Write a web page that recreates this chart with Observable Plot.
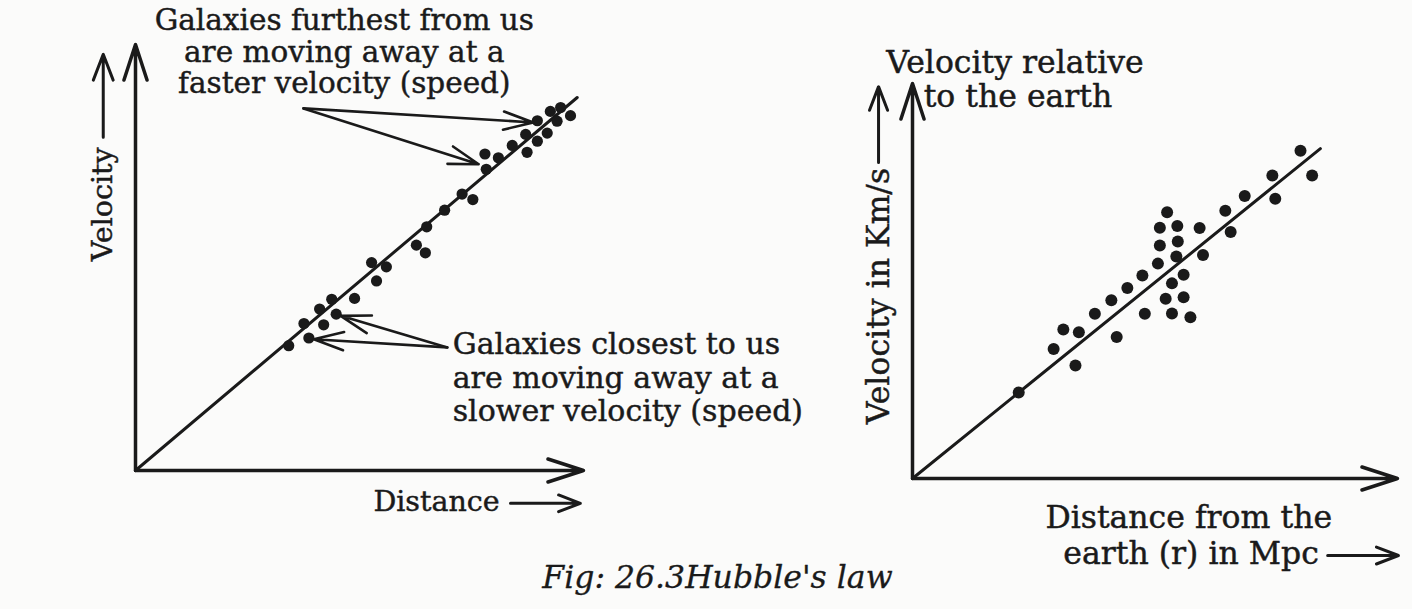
<!DOCTYPE html>
<html><head><meta charset="utf-8">
<script src="https://cdn.jsdelivr.net/npm/d3@7"></script>
<script src="https://cdn.jsdelivr.net/npm/@observablehq/plot@0.6"></script>
<style>
body{margin:0;background:#fbfbfa;}
#wrap{position:relative;width:1412px;height:609px;overflow:hidden;background:#fbfbfa;}
#wrap svg{position:absolute;left:0;top:0;}
</style></head><body><div id="wrap"></div>
<script>
// Left panel: galaxies (distance vs velocity, arbitrary units 0-100)
const leftDistance = [89.7,92.6,94.9,97.1,94.1,91.9,89.7,87.1,87.4,84.1,81.0,78.0,78.3,72.9,75.3,69.0,65.0,62.7,64.7,52.7,56.0,53.8,48.9,43.8,41.1,44.8,37.6,42.0,38.7,34.2];
const leftVelocity = [82.1,84.3,85.2,83.3,82.0,79.2,77.3,78.9,74.7,76.3,73.4,74.3,70.7,64.9,63.6,61.1,57.2,52.9,51.1,48.8,47.8,44.5,40.4,40.2,37.9,36.7,34.5,34.2,31.1,29.3];
const leftHubbleSlope = 0.888;
const leftLineMaxDistance = 98.6;

// Right panel: velocity in km/s vs distance in Mpc (arbitrary units 0-100)
const rightDistance = [80.0,82.4,74.2,74.8,68.5,64.5,65.6,59.2,59.9,52.5,51.0,54.6,51.0,54.7,54.4,50.6,55.9,53.5,47.4,44.3,41.0,37.6,52.2,55.9,47.9,53.5,57.3,34.3,31.1,29.1,42.1,33.6,21.9];
const rightVelocity = [83.0,76.7,76.7,70.8,71.5,67.8,62.4,63.4,56.6,67.4,63.5,63.9,59.0,60.0,56.2,54.4,51.6,49.4,51.4,48.2,45.1,41.7,45.5,45.9,41.7,41.8,40.8,37.0,37.7,32.8,35.8,28.6,21.8];
const rightHubbleSlope = 0.993;
const rightLineMaxDistance = 84.1;

// Texts
const leftTopNote = "Galaxies furthest from us\nare moving away at a\nfaster velocity (speed)";
const leftBottomNote = "Galaxies closest to us\nare moving away at a\nslower velocity (speed)";
const leftXLabel = "Distance";
const leftYLabel = "Velocity";
const rightYTitle1 = "Velocity relative";
const rightYTitle2 = "to the earth";
const rightYLabel = "Velocity in Km/s";
const rightXLabel1 = "Distance from the";
const rightXLabel2 = "earth (r) in Mpc";
const caption = "Fig: 26.3Hubble's law";

const ink = "#1a1a1a";
const font = "DejaVu Serif";

const leftPts = leftDistance.map((d, i) => ({d, v: leftVelocity[i]}));
const rightPts = rightDistance.map((d, i) => ({d, v: rightVelocity[i]}));
const leftLine = [0, leftLineMaxDistance].map(d => ({d, v: d * leftHubbleSlope}));
const rightLine = [0, rightLineMaxDistance].map(d => ({d, v: d * rightHubbleSlope}));

const common = {
  width: 1412, height: 609, margin: 0,
  style: {background: "transparent", fontFamily: font, overflow: "visible", color: ink}
};
const axisArrow = {stroke: ink, strokeWidth: 3.5, headLength: 16, headAngle: 36};
const noteArrow = {stroke: ink, strokeWidth: 2.6, headLength: 18, headAngle: 34};
const labelArrow = {stroke: ink, strokeWidth: 3, headLength: 15, headAngle: 42};
const txt = (size) => ({fill: ink, stroke: ink, strokeWidth: 0.45, fontSize: size, fontFamily: font});

const left = Plot.plot({
  ...common,
  x: {domain: [0, 100], range: [135, 583], axis: null},
  y: {domain: [0, 100], range: [470, 44], axis: null},
  marks: [
    Plot.arrow([0], {x1: 0, y1: 0, x2: 100, y2: 0, ...axisArrow}),
    Plot.arrow([0], {x1: 0, y1: 0, x2: 0, y2: 100, ...axisArrow}),
    Plot.line(leftLine, {x: "d", y: "v", stroke: ink, strokeWidth: 3}),
    Plot.dot(leftPts, {x: "d", y: "v", r: 5.6, fill: ink}),
    Plot.text([leftTopNote], {x: 46.6, y: 98.3, text: d => d, textAnchor: "middle", lineHeight: 1.06, ...txt(29.5)}),
    Plot.arrow([0], {x1: 37.5, y1: 85.0, x2: 88.8, y2: 81.7, ...noteArrow}),
    Plot.arrow([0], {x1: 37.5, y1: 85.0, x2: 76.6, y2: 71.9, ...noteArrow}),
    Plot.text([leftBottomNote], {x: 70.8, y: 22.0, text: d => d, textAnchor: "start", lineHeight: 1.12, ...txt(30)}),
    Plot.arrow([0], {x1: 69.6, y1: 28.9, x2: 45.8, y2: 36.3, ...noteArrow}),
    Plot.arrow([0], {x1: 69.6, y1: 28.9, x2: 39.8, y2: 30.8, ...noteArrow}),
    Plot.text([leftYLabel], {x: -7.2, y: 62.5, text: d => d, rotate: -90, textAnchor: "middle", ...txt(28.5)}),
    Plot.arrow([0], {x1: -7.2, y1: 78.2, x2: -7.2, y2: 97.7, ...labelArrow}),
    Plot.text([leftXLabel], {x: 53.1, y: -7.3, text: d => d, textAnchor: "start", ...txt(28.5)}),
    Plot.arrow([0], {x1: 83.7, y1: -7.7, x2: 99.3, y2: -7.7, ...labelArrow}),
    Plot.text([caption], {x: 129.9, y: -25.1, text: d => d, textAnchor: "middle", fontStyle: "italic", ...txt(31.5), strokeWidth: 0.3})
  ]
});

const right = Plot.plot({
  ...common,
  x: {domain: [0, 100], range: [912, 1397], axis: null},
  y: {domain: [0, 100], range: [478, 83], axis: null},
  marks: [
    Plot.arrow([0], {x1: 0, y1: 0, x2: 100, y2: 0, ...axisArrow}),
    Plot.arrow([0], {x1: 0, y1: 0, x2: 0, y2: 100, ...axisArrow}),
    Plot.line(rightLine, {x: "d", y: "v", stroke: ink, strokeWidth: 3}),
    Plot.dot(rightPts, {x: "d", y: "v", r: 6, fill: ink}),
    Plot.text([rightYTitle1], {x: -5.4, y: 105.1, text: d => d, textAnchor: "start", ...txt(31.5)}),
    Plot.text([rightYTitle2], {x: 2.3, y: 96.7, text: d => d, textAnchor: "start", ...txt(31.5)}),
    Plot.text([rightYLabel], {x: -7.0, y: 46.2, text: d => d, rotate: -90, textAnchor: "middle", ...txt(31.5)}),
    Plot.arrow([0], {x1: -7.0, y1: 80.0, x2: -7.0, y2: 99.2, ...labelArrow}),
    Plot.text([rightXLabel1], {x: 27.4, y: -10.1, text: d => d, textAnchor: "start", ...txt(31.5)}),
    Plot.text([rightXLabel2], {x: 31.1, y: -19.0, text: d => d, textAnchor: "start", ...txt(31.5)}),
    Plot.arrow([0], {x1: 85.6, y1: -19.5, x2: 100.2, y2: -19.5, ...labelArrow})
  ]
});

const wrap = document.getElementById("wrap");
wrap.append(left, right);
</script>
</body></html>
